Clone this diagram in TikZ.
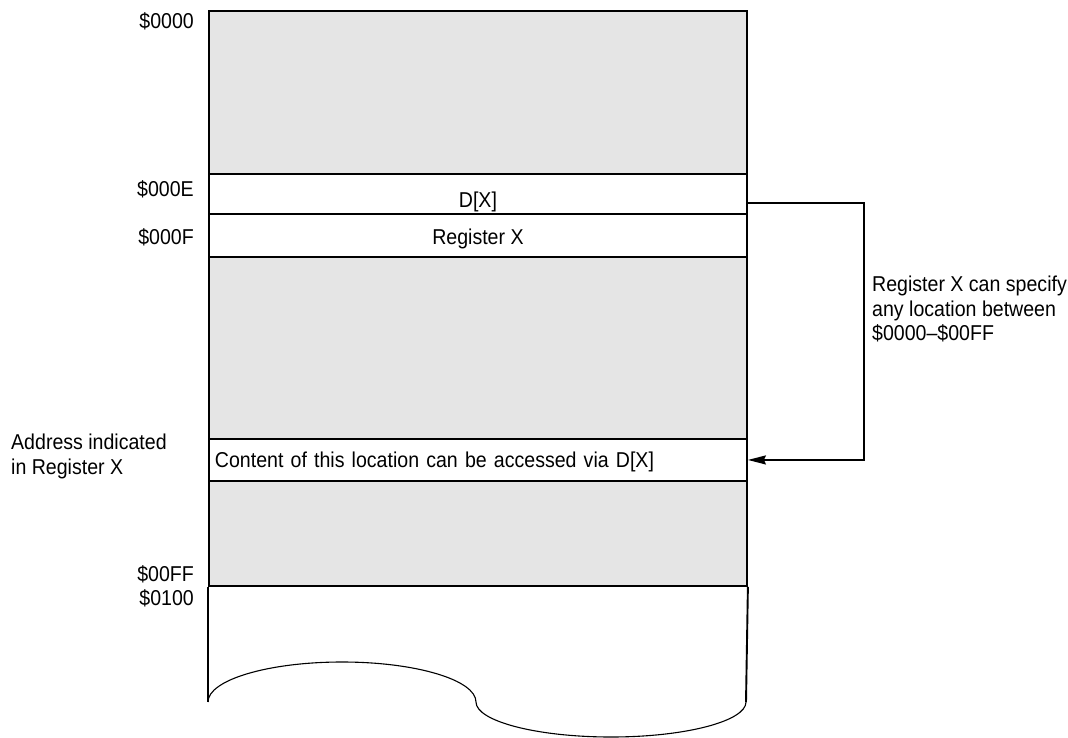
\documentclass[tikz,border=0pt]{standalone}
\usepackage{fontspec}
\setmainfont{Liberation Sans}[FakeStretch=0.91]
\usepackage{xcolor}
\usepackage{tikz}
\usetikzlibrary{arrows.meta, positioning, calc}
\definecolor{memgray}{RGB}{229,229,229}

\begin{document}
\begin{tikzpicture}[x=1pt,y=-1pt,
  every node/.style={font=\fontsize{21.5}{24.5}\selectfont,inner sep=0pt},
  memcell/.style={draw,line width=1.9pt,minimum width=538pt,anchor=north west,text depth=0pt},
  addr/.style={anchor=base east}]
\useasboundingbox (0,0) rectangle (1068,738);

% Memory rows
\node[memcell,fill=memgray,minimum height=163pt] (low) at (208,10) {};
\node[memcell,minimum height=40pt,text height=28pt] (dx) at (208,173) {D[X]};
\node[memcell,minimum height=43pt,text height=19pt] (regx) at (208,213) {Register X};
\node[memcell,fill=memgray,minimum height=182pt] (mid) at (208,256) {};
\node[memcell,minimum height=42pt,text height=16pt,text width=526pt,align=left] (target) at (208,438) {Content of this location can be accessed via D[X]};
\node[memcell,fill=memgray,minimum height=105pt] (high) at (208,480) {};

% Open end
\coordinate (endl) at (208,702);
\coordinate (endr) at (746,702);
\draw[line width=1.9pt] (high.south west) -- (endl);
\draw[line width=1.9pt] (high.south east) -- (endr);
\draw[line width=1.1pt] (endl) .. controls (208,680) and (268,662) .. (342,662)
  .. controls (416,662) and (476,680) .. (476,702)
  .. controls (476,721) and (536,737) .. (611,737)
  .. controls (686,737) and (746,721) .. (endr);

% Addresses
\node[addr] (a0000) at (194,29) {\$0000};
\node[addr] (a000e) at (194,197) {\$000E};
\node[addr] (a000f) at (194,244) {\$000F};
\node[addr] (a00ff) at (194,581) {\$00FF};
\node[addr] (a0100) at (194,605) {\$0100};

% Notes
\node[anchor=north west,align=left] (where) at (11,434) {Address indicated\\in Register X};
\node[anchor=north west,align=left] (range) at (872,276) {Register X can specify\\any location between\\\$0000--\$00FF};

% Arrow
\draw[line width=1.9pt,-{Stealth[length=18pt,width=9pt,inset=2pt]}] ([yshift=-9pt]dx.east) -- ++(116,0) |- (target.east);
\end{tikzpicture}
\end{document}
